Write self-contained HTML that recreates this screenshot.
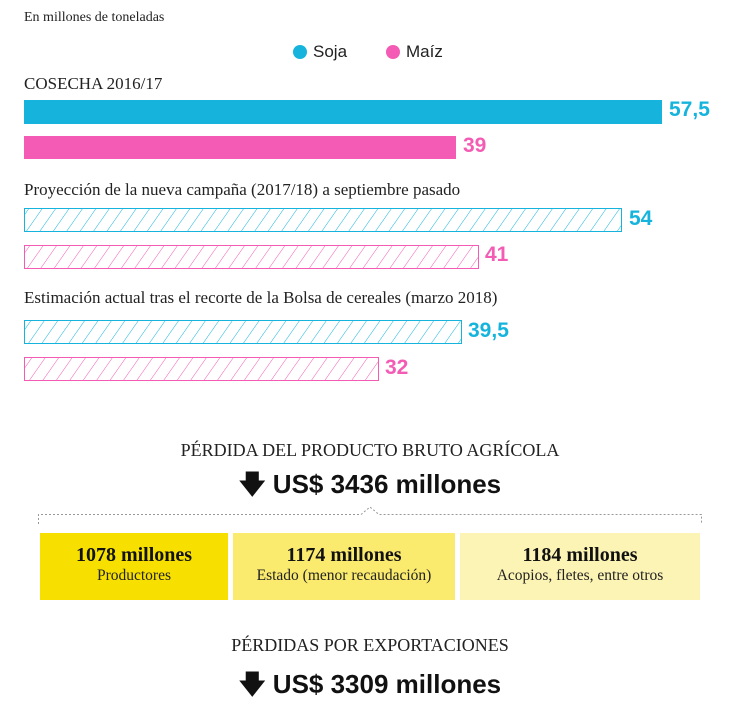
<!DOCTYPE html>
<html><head><meta charset="utf-8"><style>
body{margin:0;width:740px;height:720px;background:#fff;position:relative;overflow:hidden;font-family:"Liberation Serif",serif;color:#222}
.a{position:absolute;white-space:nowrap}
.lbl{font-size:17px;left:24px}
.val{font-family:"Liberation Sans",sans-serif;font-weight:bold;font-size:21px}
.c{color:#16b4dc}.p{color:#f35bb4}
.bar{position:absolute;left:24px;height:23px}
.h{text-align:center;width:740px;left:0}
.box{position:absolute;top:533px;height:67px;text-align:center}
.box b{display:block;font-size:20px;margin-top:11px;color:#111}
.box span{font-size:15.5px}
</style></head><body>
<div class="a" style="left:24px;top:10px;font-size:14px">En millones de toneladas</div>
<div class="a" style="left:293px;top:45px;width:14px;height:14px;border-radius:50%;background:#16b4dc"></div>
<div class="a" style="left:313px;top:42px;font-size:17px;font-family:'Liberation Sans',sans-serif">Soja</div>
<div class="a" style="left:386px;top:45px;width:14px;height:14px;border-radius:50%;background:#f35bb4"></div>
<div class="a" style="left:406px;top:42px;font-size:17px;font-family:'Liberation Sans',sans-serif">Maíz</div>
<div class="a lbl" style="top:74px">COSECHA 2016/17</div>
<div class="bar" style="top:100px;width:638px;height:24px;background:#16b4dc"></div>
<div class="a val c" style="left:669px;top:98px">57,5</div>
<div class="bar" style="top:136px;width:432px;background:#f35bb4"></div>
<div class="a val p" style="left:463px;top:134px">39</div>
<div class="a lbl" style="top:180px">Proyección de la nueva campaña (2017/18) a septiembre pasado</div>
<svg class="a" style="left:0;top:0" width="740" height="400">
<defs>
<pattern id="hc" width="11" height="11" patternUnits="userSpaceOnUse" patternTransform="rotate(35)"><line x1="0" y1="0" x2="0" y2="11" stroke="#16b4dc" stroke-width="1"/></pattern>
<pattern id="hp" width="11" height="11" patternUnits="userSpaceOnUse" patternTransform="rotate(35)"><line x1="0" y1="0" x2="0" y2="11" stroke="#f35bb4" stroke-width="1"/></pattern>
</defs>
<rect x="24.5" y="208.5" width="597" height="23" fill="url(#hc)" stroke="#16b4dc"/>
<rect x="24.5" y="245.5" width="454" height="23" fill="url(#hp)" stroke="#f35bb4"/>
<rect x="24.5" y="320.5" width="437" height="23" fill="url(#hc)" stroke="#16b4dc"/>
<rect x="24.5" y="357.5" width="354" height="23" fill="url(#hp)" stroke="#f35bb4"/>
</svg>
<div class="a val c" style="left:629px;top:207px">54</div>
<div class="a val p" style="left:485px;top:243px">41</div>
<div class="a lbl" style="top:288px">Estimación actual tras el recorte de la Bolsa de cereales (marzo 2018)</div>
<div class="a val c" style="left:468px;top:319px">39,5</div>
<div class="a val p" style="left:385px;top:356px">32</div>
<div class="a h" style="top:440px;font-size:18px">PÉRDIDA DEL PRODUCTO BRUTO AGRÍCOLA</div>
<div class="a h" style="top:466px;font-size:26px;font-weight:bold;font-family:'Liberation Sans',sans-serif;color:#111">🡇 US$ 3436 millones</div>
<svg class="a" style="left:0;top:500px" width="740" height="30"><path d="M38.5 24V14.5H361L370 7L379 14.5H701.5V24" fill="none" stroke="#999" stroke-dasharray="2,2"/></svg>
<div class="box" style="left:40px;width:188px;background:#f7e000"><b>1078 millones</b><span>Productores</span></div>
<div class="box" style="left:233px;width:222px;background:#faeb6e"><b>1174 millones</b><span>Estado (menor recaudación)</span></div>
<div class="box" style="left:460px;width:240px;background:#fcf4b4"><b>1184 millones</b><span>Acopios, fletes, entre otros</span></div>
<div class="a h" style="top:635px;font-size:18px">PÉRDIDAS POR EXPORTACIONES</div>
<div class="a h" style="top:666px;font-size:26px;font-weight:bold;font-family:'Liberation Sans',sans-serif;color:#111">🡇 US$ 3309 millones</div>
</body></html>
